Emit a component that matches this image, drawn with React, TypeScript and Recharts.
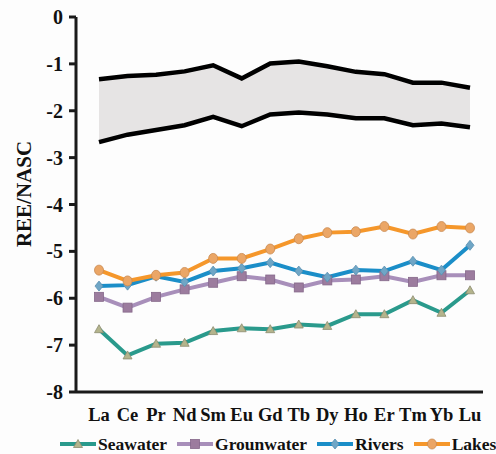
import React from 'react';
import { ComposedChart, Line, Area, XAxis, YAxis, Legend, Label } from 'recharts';

const categories = ['La', 'Ce', 'Pr', 'Nd', 'Sm', 'Eu', 'Gd', 'Tb', 'Dy', 'Ho', 'Er', 'Tm', 'Yb', 'Lu'];
const upperBound = [-1.33, -1.26, -1.23, -1.16, -1.03, -1.31, -0.99, -0.95, -1.05, -1.17, -1.22, -1.4, -1.4, -1.51];
const lowerBound = [-2.67, -2.51, -2.41, -2.31, -2.13, -2.33, -2.08, -2.04, -2.08, -2.16, -2.16, -2.31, -2.27, -2.35];
const seawater = [-6.66, -7.22, -6.97, -6.95, -6.7, -6.64, -6.66, -6.56, -6.59, -6.34, -6.34, -6.04, -6.31, -5.83];
const groundwater = [-5.97, -6.2, -5.97, -5.81, -5.67, -5.53, -5.6, -5.77, -5.62, -5.6, -5.53, -5.65, -5.51, -5.51];
const rivers = [-5.74, -5.72, -5.53, -5.65, -5.42, -5.36, -5.24, -5.42, -5.55, -5.4, -5.42, -5.21, -5.4, -4.87];
const lakes = [-5.4, -5.63, -5.51, -5.45, -5.15, -5.15, -4.95, -4.73, -4.6, -4.58, -4.47, -4.63, -4.47, -4.5];
const yTicks = [-8, -7, -6, -5, -4, -3, -2, -1, 0];

const data = categories.map((c, i) => ({
  name: c,
  band: [lowerBound[i], upperBound[i]],
  upper: upperBound[i],
  lower: lowerBound[i],
  seawater: seawater[i],
  groundwater: groundwater[i],
  rivers: rivers[i],
  lakes: lakes[i],
}));

const C = {
  sea: '#2a9a8c', seaFill: '#b4b48c', seaStroke: '#8c8c70',
  gw: '#a88fba', gwFill: '#9c7c9e', gwStroke: '#85688a',
  riv: '#1b8ec8', rivFill: '#6fa6c6', rivStroke: '#5a8fb0',
  lake: '#f5972b', lakeFill: '#eba666', lakeStroke: '#c98a52',
};

const triangle = (cx: number, cy: number, key?: any) => (
  <polygon key={key} points={`${cx},${cy - 4.5} ${cx + 4.5},${cy + 3.5} ${cx - 4.5},${cy + 3.5}`} fill={C.seaFill} stroke={C.seaStroke} strokeWidth={0.8} />
);
const square = (cx: number, cy: number, key?: any) => (
  <rect key={key} x={cx - 4.5} y={cy - 4.5} width={9} height={9} fill={C.gwFill} stroke={C.gwStroke} strokeWidth={0.8} />
);
const diamond = (cx: number, cy: number, key?: any) => (
  <polygon key={key} points={`${cx},${cy - 5} ${cx + 4},${cy} ${cx},${cy + 5} ${cx - 4},${cy}`} fill={C.rivFill} stroke={C.rivStroke} strokeWidth={0.8} />
);
const circle = (cx: number, cy: number, key?: any) => (
  <ellipse key={key} cx={cx} cy={cy} rx={4.5} ry={5} fill={C.lakeFill} stroke={C.lakeStroke} strokeWidth={0.8} />
);

const mkDot = (fn: (cx: number, cy: number, key?: any) => any) => (props: any) => {
  const { cx, cy, index } = props;
  if (cx == null || cy == null) return <g key={index} />;
  return fn(cx, cy, index);
};

const legendItems = [
  { label: 'Seawater', color: C.sea, marker: triangle },
  { label: 'Grounwater', color: C.gw, marker: square },
  { label: 'Rivers', color: C.riv, marker: diamond },
  { label: 'Lakes', color: C.lake, marker: circle },
];

const renderLegend = () => (
  <div style={{ display: 'flex', alignItems: 'center', height: 24, paddingLeft: 60, fontWeight: 'bold', fontSize: 17.5, color: '#111', whiteSpace: 'nowrap' }}>
    {legendItems.map((it) => (
      <div key={it.label} style={{ display: 'flex', alignItems: 'center', marginRight: 10 }}>
        <svg width={36} height={20}>
          <line x1={0} y1={10} x2={36} y2={10} stroke={it.color} strokeWidth={4} />
          {it.marker(18, 10)}
        </svg>
        <span style={{ marginLeft: 2 }}>{it.label}</span>
      </div>
    ))}
  </div>
);

const YLabel = () => (
  <text x={23.5} y={194} transform="rotate(-90, 23.5, 194)" textAnchor="middle" dominantBaseline="central" fontWeight="bold" fontSize={21} fill="#111">
    REE/NASC
  </text>
);

const css = `
.chart-root, .chart-root * { font-family: 'Liberation Serif', 'Times New Roman', serif !important; }
`;

export default function App() {
  return (
    <div className="chart-root" style={{ position: 'absolute', left: 0, top: 0, width: 496, height: 454, background: '#fdfdfd' }}>
      <style>{css}</style>
      <ComposedChart width={496} height={454} data={data} margin={{ top: 17, right: 13, left: 0, bottom: 6 }}>
        <XAxis
          dataKey="name"
          type="category"
          padding={{ left: 23, right: 13 }}
          axisLine={{ stroke: '#1a1a1a', strokeWidth: 3 }}
          tickLine={false}
          tickSize={6}
          tickMargin={10}
          height={32}
          interval={0}
          tick={{ fontWeight: 'bold', fontSize: 18.5, fill: '#111' }}
        />
        <YAxis
          type="number"
          domain={[-8, 0]}
          ticks={yTicks}
          width={76}
          axisLine={{ stroke: '#1a1a1a', strokeWidth: 3 }}
          tickLine={{ stroke: '#1a1a1a', strokeWidth: 3 }}
          tickSize={7}
          tickMargin={6}
          tick={{ fontWeight: 'bold', fontSize: 20, fill: '#111' }}
        >
          <Label content={<YLabel />} />
        </YAxis>
        <Area dataKey="band" fill="#e6e4e4" fillOpacity={1} stroke="none" isAnimationActive={false} legendType="none" />
        <Line dataKey="upper" stroke="#000" strokeWidth={4.5} dot={false} isAnimationActive={false} legendType="none" />
        <Line dataKey="lower" stroke="#000" strokeWidth={4.5} dot={false} isAnimationActive={false} legendType="none" />
        <Line dataKey="seawater" name="Seawater" stroke={C.sea} strokeWidth={4} dot={mkDot(triangle)} activeDot={false} isAnimationActive={false} />
        <Line dataKey="groundwater" name="Grounwater" stroke={C.gw} strokeWidth={4} dot={mkDot(square)} activeDot={false} isAnimationActive={false} />
        <Line dataKey="rivers" name="Rivers" stroke={C.riv} strokeWidth={4} dot={mkDot(diamond)} activeDot={false} isAnimationActive={false} />
        <Line dataKey="lakes" name="Lakes" stroke={C.lake} strokeWidth={4} dot={mkDot(circle)} activeDot={false} isAnimationActive={false} />
        <Legend verticalAlign="bottom" content={renderLegend} wrapperStyle={{ left: 0, top: 432, width: 496, height: 24 }} />
      </ComposedChart>
    </div>
  );
}
